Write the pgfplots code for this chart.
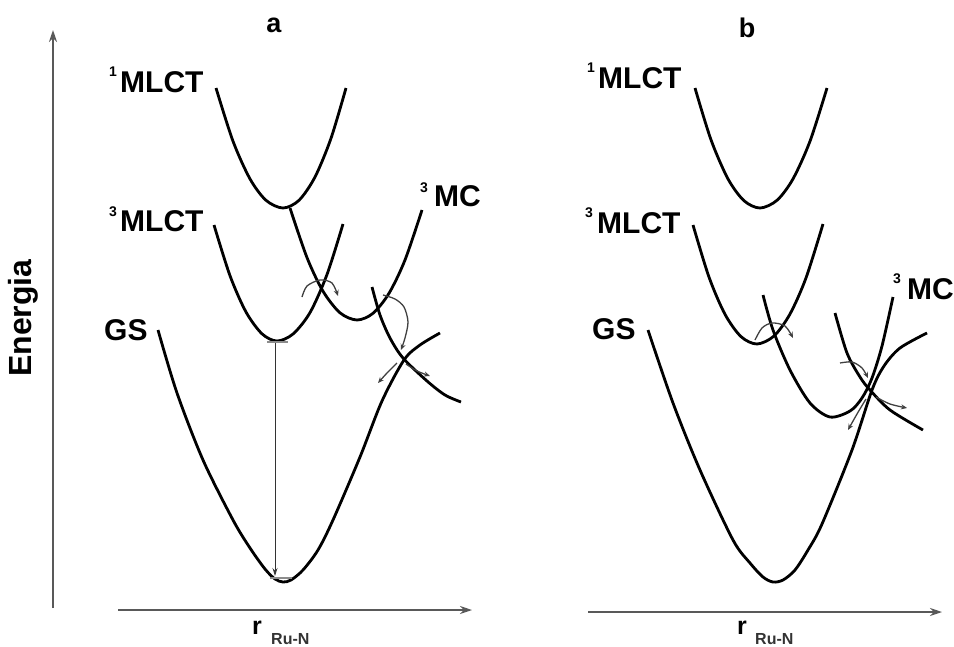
\documentclass[border=0pt]{standalone}
\usepackage{pgfplots}
\pgfplotsset{compat=1.18}
\usepackage{fontspec}
\setmainfont{Liberation Sans}
\usetikzlibrary{arrows.meta}
\pgfplotsset{pot/.style={black, line width=2.8pt, smooth, no markers},
  curv/.style={black!75, line width=1.3pt, smooth, no markers, -{Stealth[length=6pt,width=5pt]}},
  axarr/.style={black!65, line width=1.8pt, no markers, -{Stealth[length=12pt,width=8pt]}}}
\newcommand{\lab}{\bfseries\fontsize{30}{30}\selectfont}
\newcommand{\suplab}{\bfseries\fontsize{14}{14}\selectfont}
\begin{document}
\begin{tikzpicture}[every node/.style={inner sep=0pt}]
\begin{axis}[width=954pt,height=646pt,scale only axis,xmin=0,xmax=954,ymin=0,ymax=646,
  y dir=reverse,hide axis,clip=false]
\path (axis cs:0,0) rectangle (axis cs:954,646);
% ---------- axes ----------
\addplot[axarr] coordinates {(53,608) (53,30)};
\addplot[axarr] coordinates {(118,610) (472,610)};
\addplot[axarr] coordinates {(588,612) (942,612)};
% ---------- panel a ----------
% 1MLCT
\addplot[pot] coordinates {(216,88) (233,141.2) (250,178.9) (266,200.3) (283,208) (299,200.3) (315,177) (331,138.3) (346,88)};
% 3MLCT
\addplot[pot] coordinates {(214,225) (230,275.7) (246,312) (262,333.8) (277,341) (293,334) (310,312.6) (327,274.5) (343,224)};
% 3MC
\addplot[pot] coordinates {(290,208) (307,257.6) (323,291.2) (340,312.8) (357,320) (373,313.3) (389,293.3) (405,260) (422,210)};
% GS
\addplot[pot] coordinates {(158,330) (177,393) (203,460) (233,520) (250,548) (265,569) (275,579) (283,582) (291,580) (303,570) (318,550) (333,520) (360,457) (382,401) (404,360) (420,345) (440,333)};
% dissociative
\addplot[pot] coordinates {(372,287) (380,315) (390,338) (403,358) (427,381) (445,395) (461,402)};
% vertical transition
\addplot[black!80, line width=0.8pt, -{Stealth[length=8pt,width=5pt]}] coordinates {(275,342) (275,576)};
\addplot[black!45, line width=1.5pt] coordinates {(267,342) (288,342)};
\addplot[black!45, line width=1.8pt] coordinates {(270,578) (292,578)};
% curved arrows
\addplot[curv] coordinates {(302,297) (307,286) (320,280) (332,283) (338,296)};
\addplot[curv] coordinates {(383,295) (395,299) (404,307) (408,322) (405,338) (401,350)};
\addplot[curv] coordinates {(397,363) (387,373) (378,383)};
\addplot[curv] coordinates {(406,364) (417,371) (430,376)};
% labels a
\node[anchor=base west, font=\lab] at (axis cs:120,92) {MLCT};
\node[anchor=base east, font=\suplab] at (axis cs:117,76) {1};
\node[anchor=base west, font=\lab] at (axis cs:120,231) {MLCT};
\node[anchor=base east, font=\suplab] at (axis cs:117,216) {3};
\node[anchor=base west, font=\lab] at (axis cs:434,206) {MC};
\node[anchor=base east, font=\suplab] at (axis cs:428,192) {3};
\node[anchor=base west, font=\lab] at (axis cs:104,340) {GS};
\node[font=\bfseries\fontsize{27}{27}\selectfont] at (axis cs:274,25) {a};
\node[anchor=base west, font=\bfseries\fontsize{25}{25}\selectfont] at (axis cs:252,634) {r};
\node[anchor=base west, font=\bfseries\fontsize{16}{16}\selectfont, text=black!80] at (axis cs:271,644) {Ru-N};
\node[rotate=90, font=\bfseries\fontsize{32}{32}\selectfont] at (axis cs:23,318) {Energia};
% ---------- panel b ----------
\addplot[pot] coordinates {(695,88) (711,139.8) (728,178.9) (744,200.7) (760,208) (777,200.3) (793,178.9) (810,141.2) (827,88)};
\addplot[pot] coordinates {(693,225) (709,277.1) (725,314.3) (741,336.6) (757,344) (774,336) (790,314) (806,277.9) (823,224)};
% 3MC
\addplot[pot] coordinates {(763,295) (773,330) (790,370) (810,403) (830,417) (850,411) (862,398) (872,378) (882,346) (893,297)};
% GS
\addplot[pot] coordinates {(648,330) (673,403) (700,470) (733,540) (750,563) (763,577) (773,582) (783,580) (795,570) (808,550) (822,524) (852,450) (872,390) (884,366) (900,348) (927,333)};
% dissociative
\addplot[pot] coordinates {(835,313) (847,353) (860,377) (870,390) (890,410) (923,430)};
% curved arrows
\addplot[curv] coordinates {(755,340) (762,328) (772,323) (785,326) (793,338)};
\addplot[curv] coordinates {(840,363) (852,362) (862,368) (868,378)};
\addplot[curv] coordinates {(876,397) (890,404) (907,408)};
\addplot[curv] coordinates {(866,399) (857,414) (848,430)};
% labels b
\node[anchor=base west, font=\lab] at (axis cs:598,88) {MLCT};
\node[anchor=base east, font=\suplab] at (axis cs:595,72) {1};
\node[anchor=base west, font=\lab] at (axis cs:597,233) {MLCT};
\node[anchor=base east, font=\suplab] at (axis cs:593,217) {3};
\node[anchor=base west, font=\lab] at (axis cs:907,299) {MC};
\node[anchor=base east, font=\suplab] at (axis cs:901,283) {3};
\node[anchor=base west, font=\lab] at (axis cs:592,339) {GS};
\node[font=\bfseries\fontsize{27}{27}\selectfont] at (axis cs:747,28) {b};
\node[anchor=base west, font=\bfseries\fontsize{25}{25}\selectfont] at (axis cs:737,634) {r};
\node[anchor=base west, font=\bfseries\fontsize{16}{16}\selectfont, text=black!80] at (axis cs:755,644) {Ru-N};
\end{axis}
\end{tikzpicture}
\end{document}
